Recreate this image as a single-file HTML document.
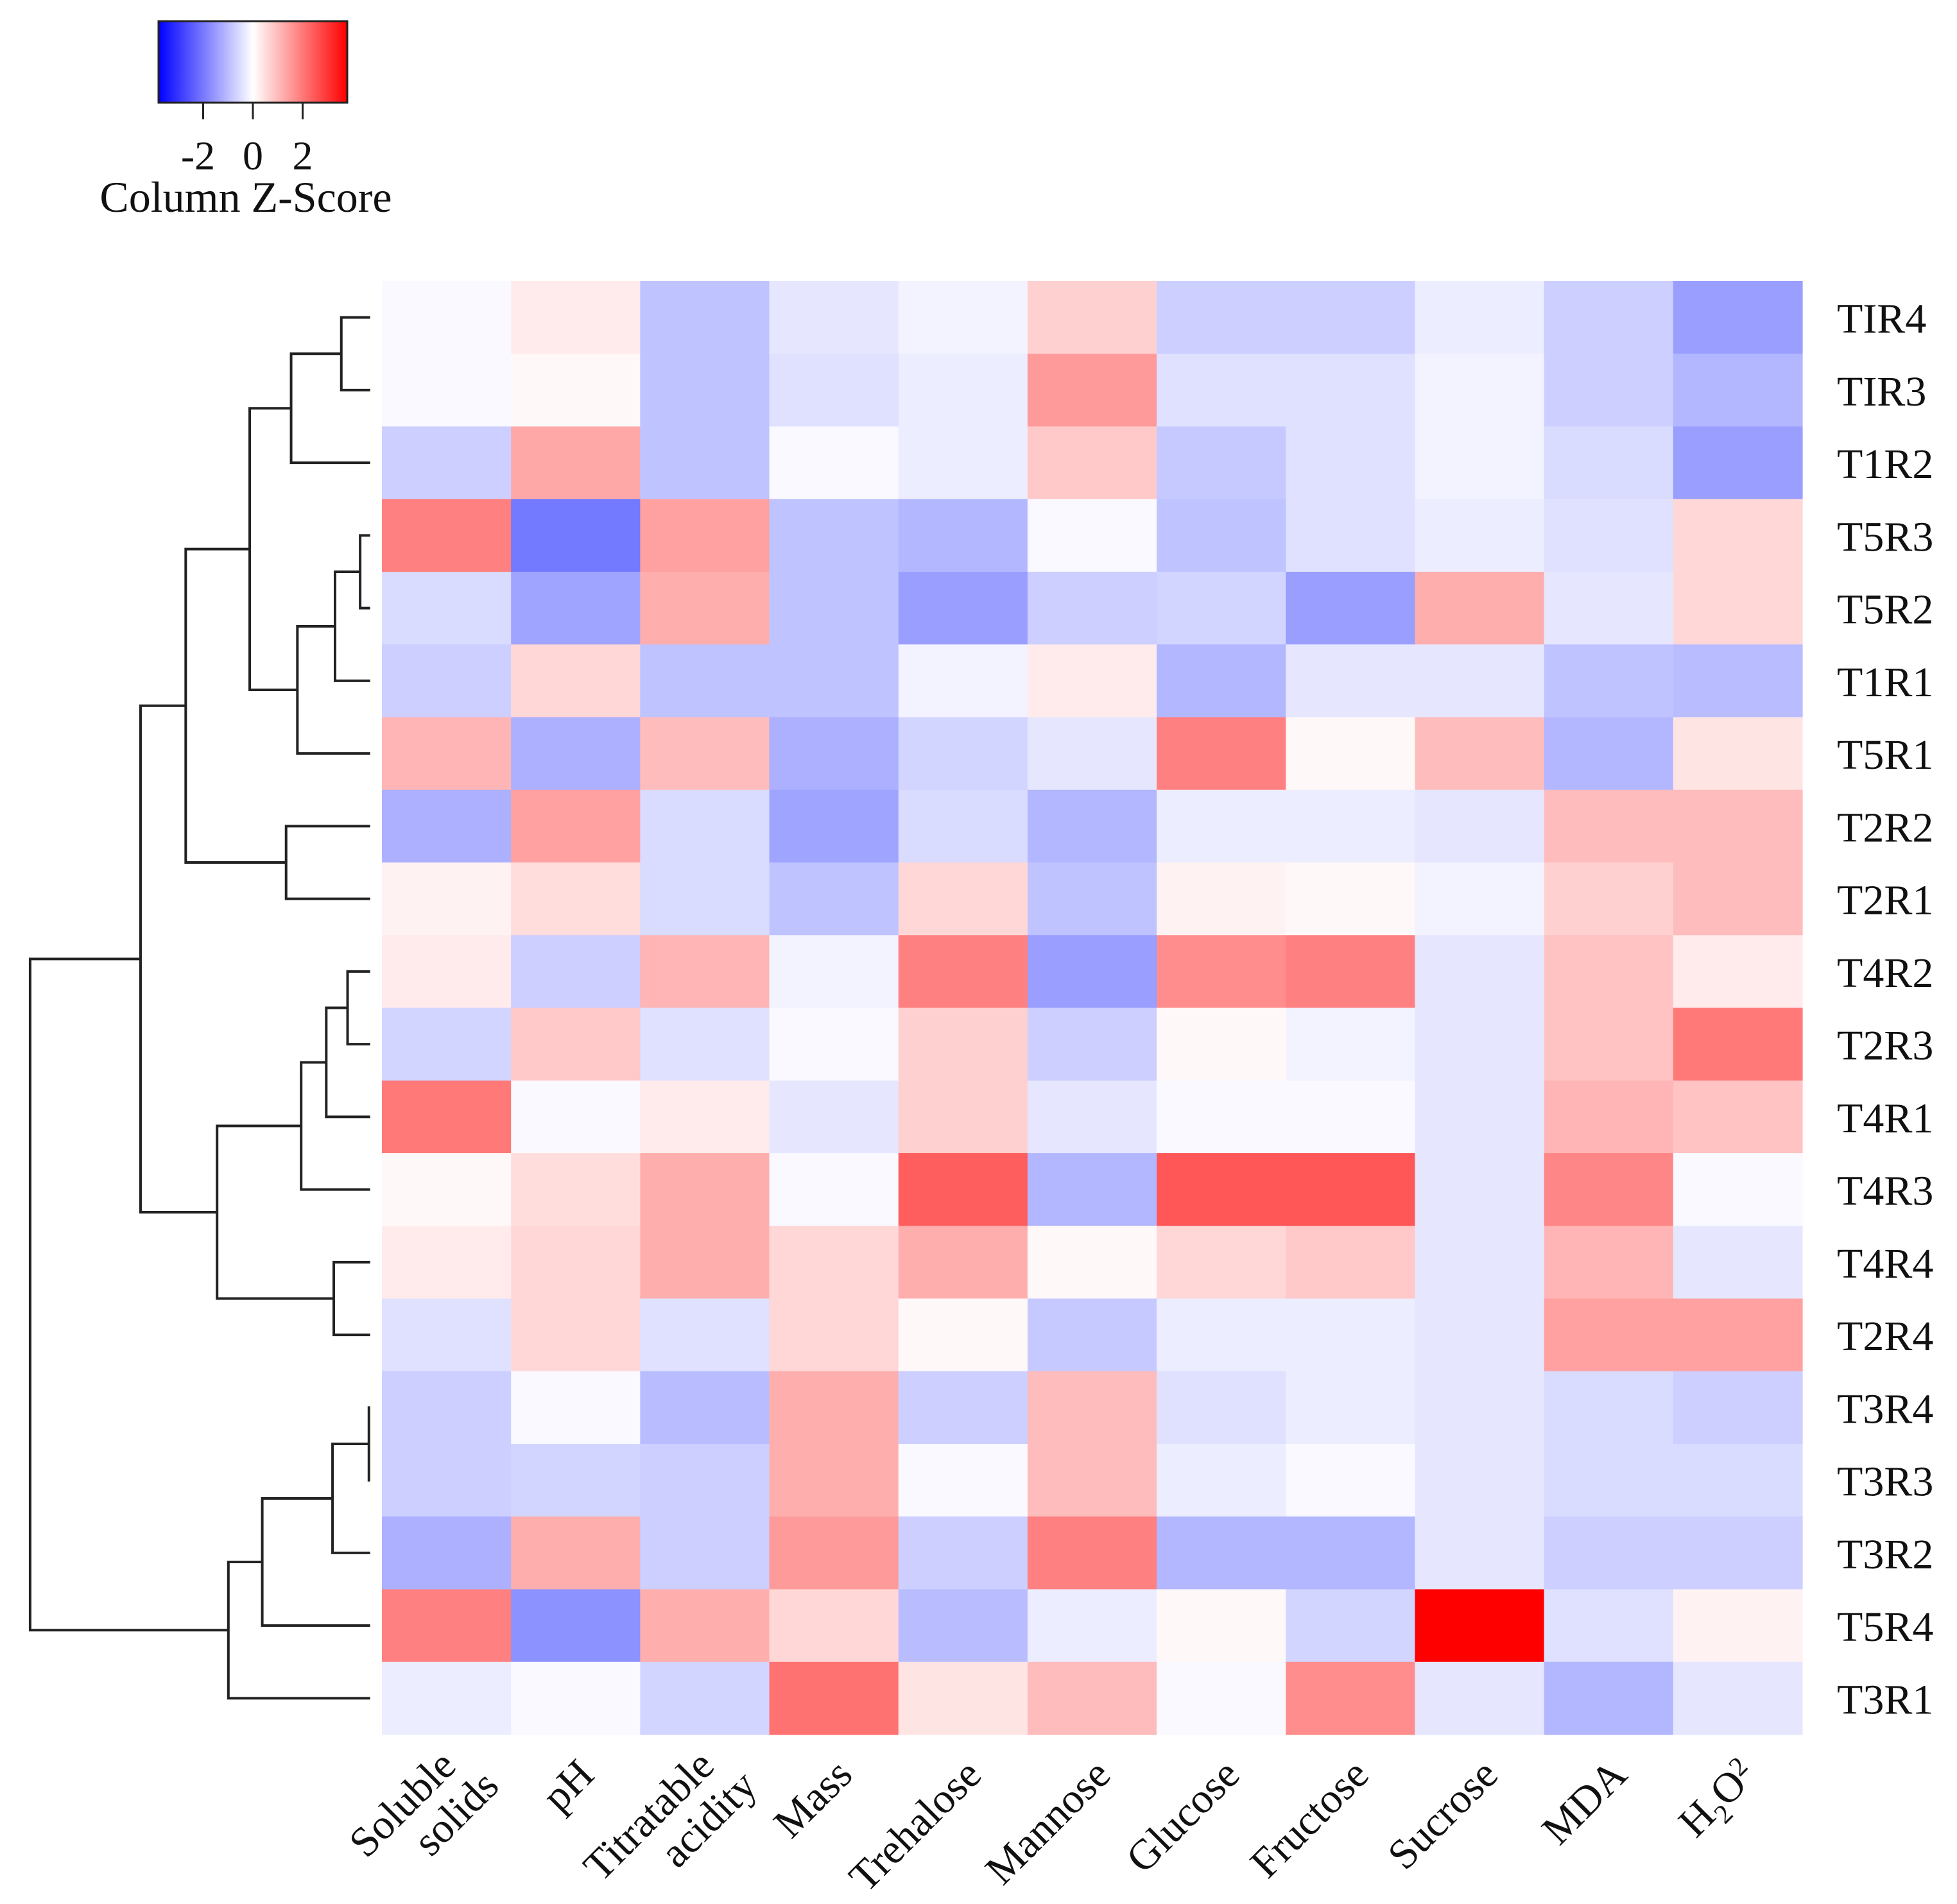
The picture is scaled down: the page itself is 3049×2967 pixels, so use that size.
<!DOCTYPE html>
<html><head><meta charset="utf-8"><style>
html,body{margin:0;padding:0;background:#fff}
svg{display:block}
text{font-family:"Liberation Serif",serif;fill:#111}
</style></head><body>
<svg id="chart" width="3049" height="2967" viewBox="0 0 3049 2967" xmlns="http://www.w3.org/2000/svg">
<defs>
<linearGradient id="cg" x1="0" x2="1" y1="0" y2="0">
<stop offset="0" stop-color="#0000ff"/><stop offset="0.5" stop-color="#ffffff"/><stop offset="1" stop-color="#ff0000"/>
</linearGradient>
</defs>
<g id="legend">
<rect x="247" y="33" width="294" height="127" fill="url(#cg)" stroke="#222" stroke-width="3"/>
<g id="legendTicks"></g>
<text x="383" y="330" font-size="68" text-anchor="middle">Column Z-Score</text>
</g>
<g id="cells"></g>
<g id="dendro"></g>
<g id="rowlabels"></g>
<g id="collabels"></g>
</svg>
<script>
const rows = ["TIR4","TIR3","T1R2","T5R3","T5R2","T1R1","T5R1","T2R2","T2R1","T4R2","T2R3","T4R1","T4R3","T4R4","T2R4","T3R4","T3R3","T3R2","T5R4","T3R1"];
const cols = ["Soluble solids","pH","Titratable acidity","Mass","Trehalose","Mannose","Glucose","Fructose","Sucrose","MDA","H2O2"];
const values = [
[-0.1,0.3,-1.0,-0.4,-0.2,0.7,-0.8,-0.8,-0.3,-0.8,-1.6],
[-0.1,0.1,-1.0,-0.5,-0.3,1.5,-0.5,-0.5,-0.2,-0.8,-1.2],
[-0.8,1.3,-1.0,-0.1,-0.3,0.8,-0.9,-0.5,-0.2,-0.6,-1.6],
[1.9,-2.2,1.4,-1.0,-1.2,-0.1,-1.0,-0.5,-0.3,-0.5,0.6],
[-0.6,-1.5,1.2,-1.0,-1.6,-0.8,-0.7,-1.6,1.2,-0.4,0.6],
[-0.8,0.6,-1.0,-1.0,-0.2,0.3,-1.2,-0.4,-0.4,-1.0,-1.1],
[1.1,-1.3,1.0,-1.3,-0.7,-0.4,1.9,0.1,1.0,-1.2,0.4],
[-1.3,1.4,-0.6,-1.5,-0.6,-1.2,-0.3,-0.3,-0.4,1.0,1.0],
[0.2,0.5,-0.6,-1.0,0.6,-1.0,0.2,0.1,-0.2,0.7,1.0],
[0.3,-0.8,1.1,-0.2,1.9,-1.6,1.7,1.9,-0.4,0.9,0.3],
[-0.7,0.8,-0.5,-0.1,0.7,-0.8,0.1,-0.2,-0.4,0.9,2.0],
[2.0,-0.1,0.3,-0.4,0.7,-0.4,-0.1,-0.1,-0.4,1.1,0.9],
[0.1,0.5,1.2,-0.1,2.4,-1.2,2.5,2.5,-0.4,1.8,-0.1],
[0.3,0.6,1.2,0.6,1.2,0.1,0.6,0.8,-0.4,1.1,-0.4],
[-0.5,0.6,-0.5,0.6,0.1,-0.9,-0.3,-0.3,-0.4,1.4,1.4],
[-0.8,-0.1,-1.1,1.2,-0.8,1.0,-0.5,-0.3,-0.4,-0.6,-0.8],
[-0.8,-0.7,-0.8,1.2,-0.1,1.0,-0.3,-0.1,-0.4,-0.6,-0.6],
[-1.3,1.2,-0.8,1.5,-0.8,1.9,-1.2,-1.2,-0.4,-0.8,-0.8],
[1.9,-1.8,1.2,0.6,-1.1,-0.3,0.1,-0.7,3.8,-0.5,0.2],
[-0.3,-0.1,-0.7,2.1,0.4,1.0,-0.1,1.7,-0.4,-1.2,-0.4]
];
const legendTicks = [-2,0,2];
// dendrogram merges: [leftNode, rightNode, height]; leaves are 0..19, merges numbered 20+
const merges = [
[0,1,272],[20,2,232],[3,4,287],[22,5,267],[23,6,237],[21,24,199],
[7,8,228],[25,26,148],[9,10,277],[28,11,260],[29,12,240],[13,14,266],
[30,31,173],[27,32,112],[15,16,294],[34,17,265],[35,18,209],[36,19,182],[33,37,24]
];
const leafHeight = 295;

const NS="http://www.w3.org/2000/svg";
const X0=595,X1=2808,Y0=438,Y1=2703;
const cw=(X1-X0)/cols.length, rh=(Y1-Y0)/rows.length;
const zmax=3.8, S=1.955;
function color(z){
  let t=Math.max(-1,Math.min(1,z/zmax));
  if(t>=0){const g=Math.round(255*(1-t));return `rgb(255,${g},${g})`;}
  const rr=Math.round(255*(1+t*0.95)), gg=Math.round(255*(1+t*0.9));
  return `rgb(${rr},${gg},255)`;
}
function mk(tag,attrs,parent){const e=document.createElementNS(NS,tag);for(const k in attrs)e.setAttribute(k,attrs[k]);parent.appendChild(e);return e;}
const cellsG=document.getElementById('cells');
values.forEach((row,i)=>row.forEach((v,j)=>{
  const r=mk('rect',{x:X0+j*cw,y:Y0+i*rh,width:cw+0.6,height:rh+0.6,fill:color(v)},cellsG);
  
  
}));
// legend ticks
const lt=document.getElementById('legendTicks');
const zx=z=>394+z*38.75;
legendTicks.forEach(z=>{
  const l=mk('line',{x1:zx(z),x2:zx(z),y1:160,y2:186,stroke:'#222','stroke-width':3},lt);
  
  
  const t=mk('text',{x:zx(z)+(z<0?-8:0),y:264,'font-size':64,'text-anchor':'middle'},lt);
  t.textContent=String(z);
  
  
});
// row labels
const rl=document.getElementById('rowlabels');
rows.forEach((r,i)=>{
  const t=mk('text',{x:2862,y:Y0+(i+0.5)*rh+24,'font-size':66},rl);
  t.textContent=r;
  
  
});
// column labels
const cl=document.getElementById('collabels');
cols.forEach((c,j)=>{
  const cx=X0+(j+0.5)*cw+32, cy=Y1+66;
  const t=mk('text',{transform:`translate(${cx},${cy}) rotate(-45)`,'font-size':66,'text-anchor':'end'},cl);
  
  
  if(c==="H2O2"){
    t.innerHTML='H<tspan font-size="42" dy="16">2</tspan><tspan dy="-16">O</tspan><tspan font-size="42" dy="-20">2</tspan>';
  } else {
    const parts=c.split(' ');
    if(parts.length===2){
      const a=mk('tspan',{x:0,dy:'-0.3em'},t);a.textContent=parts[0];
      const b=mk('tspan',{x:25,dy:'1.05em'},t);b.textContent=parts[1];
    } else t.textContent=c;
  }
});
// dendrogram
const dg=document.getElementById('dendro');
const nodes=[];
rows.forEach((r,i)=>nodes.push({y:Y0+(i+0.5)*rh,x:leafHeight*S}));
merges.forEach(m=>{
  const a=nodes[m[0]],b=nodes[m[1]],x=m[2]*S;
  const p=mk('path',{d:`M${a.x},${a.y}H${x}V${b.y}H${b.x}`,fill:'none',stroke:'#222','stroke-width':4},dg);
  
  
  nodes.push({x:x,y:(a.y+b.y)/2});
});
</script>
</body></html>
